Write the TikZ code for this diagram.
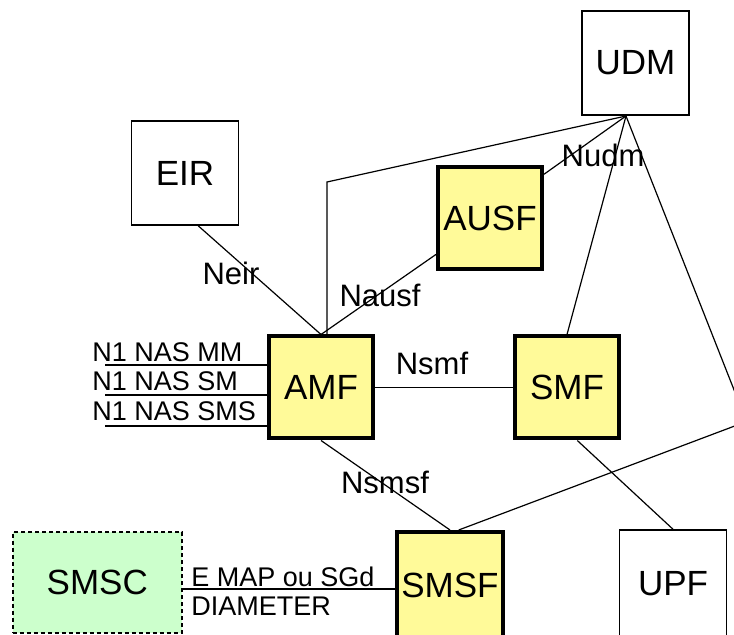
\documentclass[tikz,border=0pt]{standalone}
\usepackage{fontspec}
\setmainfont{Liberation Sans}
\usepackage{tikz}

\begin{document}
\begin{tikzpicture}[x=0.5pt, y=-0.5pt,
  nf/.style={draw, line width=0.75pt, minimum width=53.5pt, minimum height=52pt, inner sep=0pt, font=\fontsize{17.5}{20}\selectfont},
  nfy/.style={nf, fill=yellow!40, line width=2pt, minimum width=52pt, minimum height=51pt},
  itf/.style={inner sep=0pt, font=\fontsize{15.5}{18}\selectfont},
  nas/.style={inner sep=0pt, anchor=west, font=\fontsize{13.5}{16}\selectfont},
  lnk/.style={line width=0.6pt}]
\useasboundingbox (0,0) rectangle (734,635);
\clip (0,0) rectangle (734,635);

% network functions
\node[nf] (udm) at (635.5,63) {UDM};
\node[nf] (eir) at (185,173) {EIR};
\node[nfy] (ausf) at (490,218) {AUSF};
\node[nfy] (amf) at (321,387.5) {AMF};
\node[nfy] (smf) at (567,387.5) {SMF};
\node[nfy, minimum width=53pt, minimum height=53pt] (smsf) at (450,585) {SMSF};
\node[nf, minimum height=54pt] (upf) at (673,584) {UPF};
\node[nf, line width=1pt, dash pattern=on 2pt off 1.5pt, fill=green!20, minimum width=84.5pt, minimum height=50.5pt] (smsc) at (97.3,582.3) {SMSC};

% joints
\coordinate (udmj) at (626,116);
\coordinate (bend) at (327,182);
\coordinate (edge1) at (740,405);
\coordinate (edge2) at (740,424);
\coordinate (n1a) at (105,365);
\coordinate (n1b) at (105,395);
\coordinate (n1c) at (105,426);
\coordinate (smscj) at (183,589);

% links
\draw[lnk] (udmj) -- (bend) -- (bend |- amf.north);
\draw[lnk] (eir.-76) -- (amf.north);
\draw[lnk] (ausf.214) -- (amf.north);
\draw[lnk] (ausf.39) -- (udmj);
\draw[lnk] (udmj) -- (smf.north);
\draw[lnk] (udmj) -- (edge1);
\draw[lnk] (edge2) -- (smsf.81);
\draw[lnk] (amf.east) -- (smf.west);
\draw[lnk] (amf.south) -- (smsf.north);
\draw[lnk] (smf.-79) -- (upf.north);
\draw[lnk] (n1a) -- (n1a -| amf.west);
\draw[lnk] (n1b) -- (n1b -| amf.west);
\draw[lnk] (n1c) -- (n1c -| amf.west);
\draw[lnk] (smscj) -- (smscj -| smsf.west);

% labels
\node[itf] (nudm) at (603,155) {Nudm};
\node[itf] (neir) at (231,273) {Neir};
\node[itf] (nausf) at (380,295) {Nausf};
\node[itf] (nsmf) at (432,363) {Nsmf};
\node[itf] (nsmsf) at (385,482) {Nsmsf};
\node[nas] (nasmm) at (92,352) {N1 NAS MM};
\node[nas] (nassm) at (92,381) {N1 NAS SM};
\node[nas] (nassms) at (92,411) {N1 NAS SMS};
\node[nas] (emap) at (191,577) {E MAP ou SGd};
\node[nas] (diam) at (191,606) {DIAMETER};
\end{tikzpicture}
\end{document}
